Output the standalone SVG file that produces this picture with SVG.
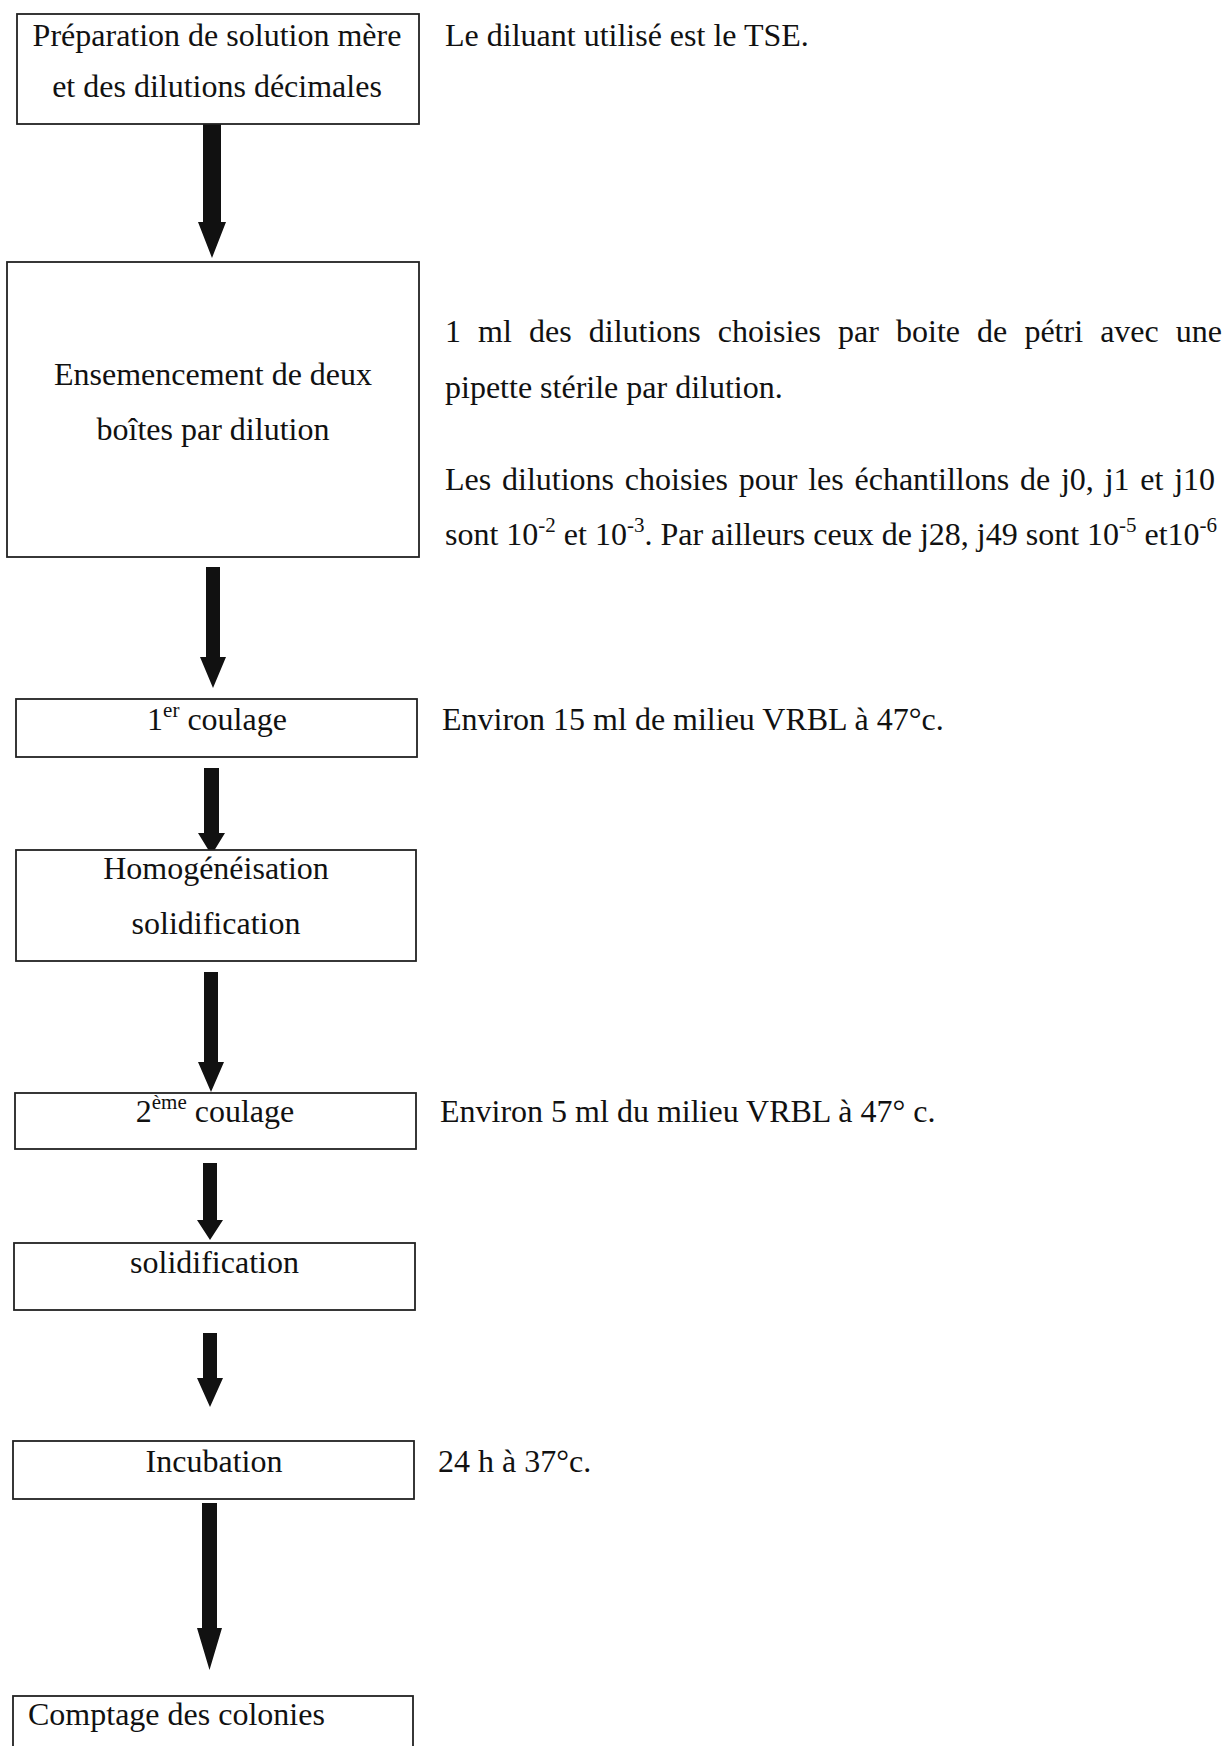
<svg xmlns="http://www.w3.org/2000/svg" width="1224" height="1746" viewBox="0 0 1224 1746">
<style>
.box{fill:#fff;stroke:#222;stroke-width:1.8}
.t{font-family:"Liberation Serif","Times New Roman",serif;font-size:32px;fill:#111}
.c{text-anchor:middle}
.sup{font-size:21px}
.arr{fill:#111;stroke:none}
</style>
<rect width="1224" height="1746" fill="#fff"/>
<g id="connectors">
<path class="arr" d="M203,124 L221,124 L221,222 L226,222 L212,258 L198,222 L203,222 Z"/>
<path class="arr" d="M206,567 L220,567 L220,657 L226,657 L213,688 L200,657 L206,657 Z"/>
<path class="arr" d="M204,768 L219,768 L219,833 L225,833 L211.5,855 L198,833 L204,833 Z"/>
<path class="arr" d="M204,972 L218,972 L218,1062 L224,1062 L211,1092 L198,1062 L204,1062 Z"/>
<path class="arr" d="M203,1163 L217,1163 L217,1220 L223,1220 L210,1240 L197,1220 L203,1220 Z"/>
<path class="arr" d="M203,1333 L217,1333 L217,1378 L223,1378 L210,1407 L197,1378 L203,1378 Z"/>
<path class="arr" d="M202,1503 L217,1503 L217,1628 L222,1628 L209.5,1670 L197,1628 L202,1628 Z"/>
</g>
<g id="n1">
<rect class="box" x="17" y="14" width="402" height="110"/>
<text class="t c" x="217" y="46">Préparation de solution mère</text>
<text class="t c" x="217" y="97">et des dilutions décimales</text>
</g>
<g id="n2">
<rect class="box" x="7" y="262" width="412" height="295"/>
<text class="t c" x="213" y="385">Ensemencement de deux</text>
<text class="t c" x="213" y="440">boîtes par dilution</text>
</g>
<g id="n3">
<rect class="box" x="16" y="699" width="401" height="58"/>
<text class="t c" x="217" y="730">1<tspan class="sup" dy="-13">er</tspan><tspan dy="13"> coulage</tspan></text>
</g>
<g id="n4">
<rect class="box" x="16" y="850" width="400" height="111"/>
<text class="t c" x="216" y="879">Homogénéisation</text>
<text class="t c" x="216" y="934">solidification</text>
</g>
<g id="n5">
<rect class="box" x="15" y="1093" width="401" height="56"/>
<text class="t c" x="215" y="1122">2<tspan class="sup" dy="-13">ème</tspan><tspan dy="13"> coulage</tspan></text>
</g>
<g id="n6">
<rect class="box" x="14" y="1243" width="401" height="67"/>
<text class="t c" x="214.5" y="1273">solidification</text>
</g>
<g id="n7">
<rect class="box" x="13" y="1441" width="401" height="58"/>
<text class="t c" x="214" y="1472">Incubation</text>
</g>
<g id="n8">
<rect class="box" x="13" y="1696" width="400" height="70"/>
<text class="t" x="28" y="1725">Comptage des colonies</text>
</g>
<g id="notes">
<text class="t" x="445" y="46">Le diluant utilisé est le TSE.</text>
<text class="t" x="445" y="342" word-spacing="9.1">1 ml des dilutions choisies par boite de pétri avec une</text>
<text class="t" x="445" y="398">pipette stérile par dilution.</text>
<text class="t" x="445" y="490" word-spacing="2.8">Les dilutions choisies pour les échantillons de j0, j1 et j10</text>
<text class="t" x="445" y="545">sont 10<tspan class="sup" dy="-13">-2</tspan><tspan dy="13"> et 10</tspan><tspan class="sup" dy="-13">-3</tspan><tspan dy="13">. Par ailleurs ceux de j28, j49 sont 10</tspan><tspan class="sup" dy="-13">-5</tspan><tspan dy="13"> et10</tspan><tspan class="sup" dy="-13">-6</tspan></text>
<text class="t" x="442" y="730">Environ 15 ml de milieu VRBL à 47°c.</text>
<text class="t" x="440" y="1122">Environ 5 ml du milieu VRBL à 47° c.</text>
<text class="t" x="438" y="1472">24 h à 37°c.</text>
</g>
</svg>
